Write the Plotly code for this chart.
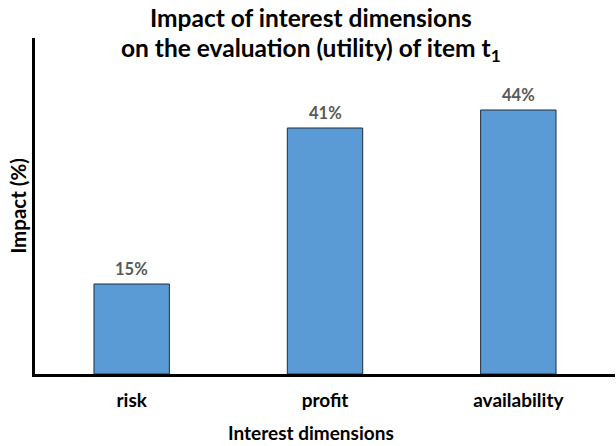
import plotly.graph_objects as go

categories = ["risk", "profit", "availability"]
impact = [15, 41, 44]
labels = [f"{v}%" for v in impact]

FONT = "Lato"
TEXT_CENTER = 0.476  # horizontal centre used by the title and the x-axis title

fig = go.Figure(
    go.Bar(
        x=categories,
        y=impact,
        width=0.39,
        marker=dict(color="#5B9BD5", line=dict(color="#1F2D3D", width=1)),
        cliponaxis=False,
    )
)

# value labels above each bar
value_labels = [
    dict(text=f"<b>{lab}</b>", x=cat, y=val, xref="x", yref="y",
         yanchor="bottom", yshift=3, showarrow=False,
         font=dict(family=FONT, size=16.5, color="#595959"))
    for cat, val, lab in zip(categories, impact, labels)
]

fig.update_layout(
    width=616,
    height=446,
    margin=dict(l=35, r=1, t=38, b=72),
    plot_bgcolor="white",
    paper_bgcolor="white",
    showlegend=False,
    font=dict(family=FONT, color="black"),
    annotations=[
        dict(text="<b>Impact of interest dimensions</b>", xref="paper", yref="paper",
             x=TEXT_CENTER, y=1, yshift=21, xanchor="center", yanchor="middle", showarrow=False,
             font=dict(family=FONT, size=24.5, color="black")),
        dict(text="<b>on the evaluation (utility) of item t<sub>1</sub></b>", xref="paper", yref="paper",
             x=TEXT_CENTER, y=1, yshift=-11, xanchor="center", yanchor="middle", showarrow=False,
             font=dict(family=FONT, size=24.5, color="black")),
        dict(text="<b>Interest dimensions</b>", xref="paper", yref="paper",
             x=TEXT_CENTER, y=0, yshift=-58, xanchor="center", yanchor="middle", showarrow=False,
             font=dict(family=FONT, size=19, color="black")),
    ] + value_labels,
)

fig.update_xaxes(
    showline=True, linecolor="black", linewidth=2.5,
    ticks="", tickfont=dict(family=FONT, size=19, color="black"),
    tickprefix="<b>", ticksuffix="</b>", ticklabelstandoff=7,
)
fig.update_yaxes(
    range=[0, 56], showline=True, linecolor="black", linewidth=2.5,
    showgrid=False, showticklabels=False, ticks="", zeroline=False,
    title=dict(text="<b>Impact (%)</b>", font=dict(family=FONT, size=20.5, color="black"), standoff=1),
)

fig.write_html("out.html")
